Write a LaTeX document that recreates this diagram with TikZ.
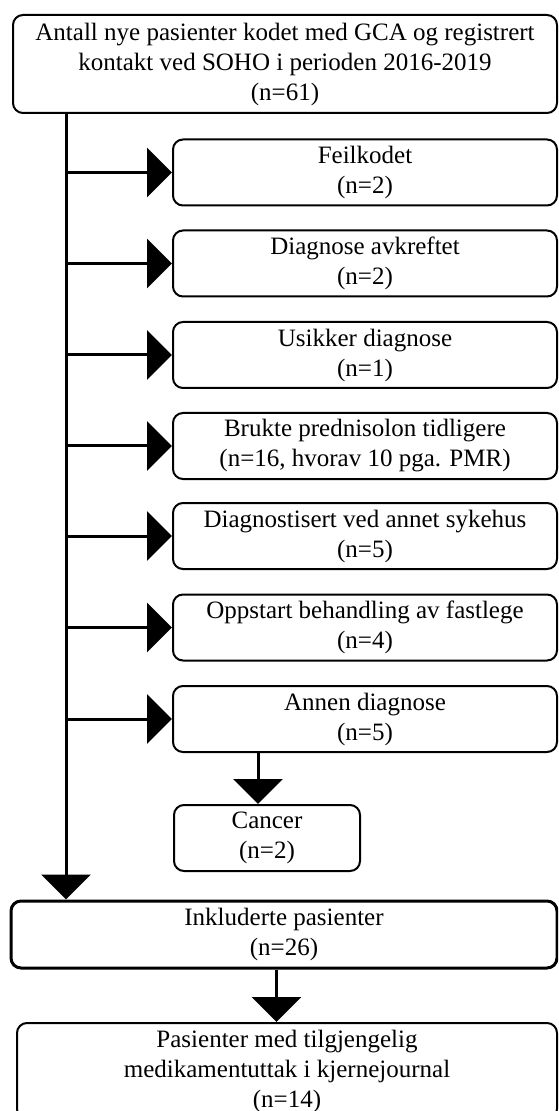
\documentclass[tikz,border=0pt]{standalone}
\usepackage{fontspec}
\setmainfont{Liberation Serif}
\usetikzlibrary{arrows.meta}
\begin{document}
\begin{tikzpicture}[x=0.5pt,y=-0.5pt,
		box/.style={draw,rounded corners=5pt,line width=1pt,align=center,inner sep=0pt,
			font=\fontsize{12.5}{15}\selectfont},
		sidebox/.style={box,minimum width=192pt,minimum height=33pt},
		arr/.style={line width=1.5pt,-{Triangle[length=12.5pt,width=24.5pt]}}]
	% Frame
	\useasboundingbox (0,0) rectangle (558,1111);
	\clip (0,0) rectangle (558,1111);
	% Boxes
	\node[box,minimum width=272pt,minimum height=49pt] (total) at (285,64)
		{Antall nye pasienter kodet med GCA og registrert\\kontakt ved SOHO i perioden 2016-2019\\(n=61)};
	\node[sidebox] (feil) at (365,172.5) {Feilkodet\\(n=2)};
	\node[sidebox] (avkr) at (365,263.5) {Diagnose avkreftet\\(n=2)};
	\node[sidebox] (usikker) at (365,355) {Usikker diagnose\\(n=1)};
	\node[sidebox] (pred) at (365,446) {Brukte prednisolon tidligere\\(n=16, hvorav 10 pga. PMR)};
	\node[sidebox] (annet) at (365,536) {Diagnostisert ved annet sykehus\\(n=5)};
	\node[sidebox] (fastlege) at (365,627.5) {Oppstart behandling av fastlege\\(n=4)};
	\node[sidebox] (annen) at (365,719) {Annen diagnose\\(n=5)};
	\node[box,minimum width=93pt,minimum height=33pt] (cancer) at (267,838) {Cancer\\(n=2)};
	\node[box,line width=1.5pt,minimum width=273pt,minimum height=33.5pt] (incl) at (284,934.5)
		{Inkluderte pasienter\\(n=26)};
	\node[box,minimum width=270pt,minimum height=48pt] (final) at (287,1071)
		{Pasienter med tilgjengelig\\medikamentuttak i kjernejournal\\(n=14)};
	% Arrows
	\coordinate (spine) at (66,113);
	\coordinate (cancerin) at (258,0);
	\coordinate (inclout) at (276.5,0);
	\draw[arr] (spine) -- (spine |- incl.north);
	\foreach \n in {feil,avkr,usikker,pred,annet,fastlege,annen}
		\draw[arr] (spine |- \n.west) -- (\n.west);
	\draw[arr] (annen.south -| cancerin) -- (cancer.north -| cancerin);
	\draw[arr] (incl.south -| inclout) -- (final.north -| inclout);
\end{tikzpicture}
\end{document}
